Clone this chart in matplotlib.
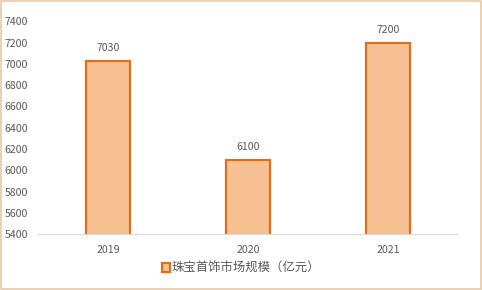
import matplotlib
matplotlib.use("Agg")
import matplotlib.pyplot as plt
from matplotlib.patches import Rectangle

plt.rcParams['font.family'] = ['Noto Sans CJK SC', 'DejaVu Sans']

years = ["2019", "2020", "2021"]
values = [7030, 6100, 7200]
y_ticks = list(range(5400, 7401, 200))
series_name = "珠宝首饰市场规模（亿元）"

FILL = "#F8C193"
EDGE = "#DF6E1C"
TXT = "#595959"

fig = plt.figure(figsize=(4.82, 2.90), dpi=100, facecolor="white")
fig.patches.append(Rectangle((0.002, 0.003), 0.995, 0.993, transform=fig.transFigure,
                             fill=False, edgecolor="#E8C9A8", lw=1.2))

ax = fig.add_axes([0.079, 0.193, 0.871, 0.733])
bars = ax.bar(years, values, width=0.315, color=FILL, edgecolor=EDGE, lw=1.6,
              label=series_name)
ax.set_ylim(5400, 7400)
ax.set_xlim(-0.5, 2.5)
ax.set_yticks(y_ticks)
for s in ["top", "right", "left"]:
    ax.spines[s].set_visible(False)
ax.spines["bottom"].set_color("#D9D9D9")
ax.tick_params(axis="both", length=0, labelsize=7.6, colors=TXT)
ax.tick_params(axis="x", pad=8)
ax.tick_params(axis="y", pad=7)

for b, v in zip(bars, values):
    ax.text(b.get_x() + b.get_width() / 2, v + 75, f"{v}", ha="center", va="bottom",
            fontsize=7.6, color=TXT)

fig.legend(handles=[bars], labels=[series_name], loc="center",
           bbox_to_anchor=(0.50, 0.075), frameon=False, fontsize=8.9,
           handlelength=0.65, handleheight=0.65, handletextpad=0.15, labelcolor=TXT)

fig.savefig("out.png", dpi=100, facecolor="white")
